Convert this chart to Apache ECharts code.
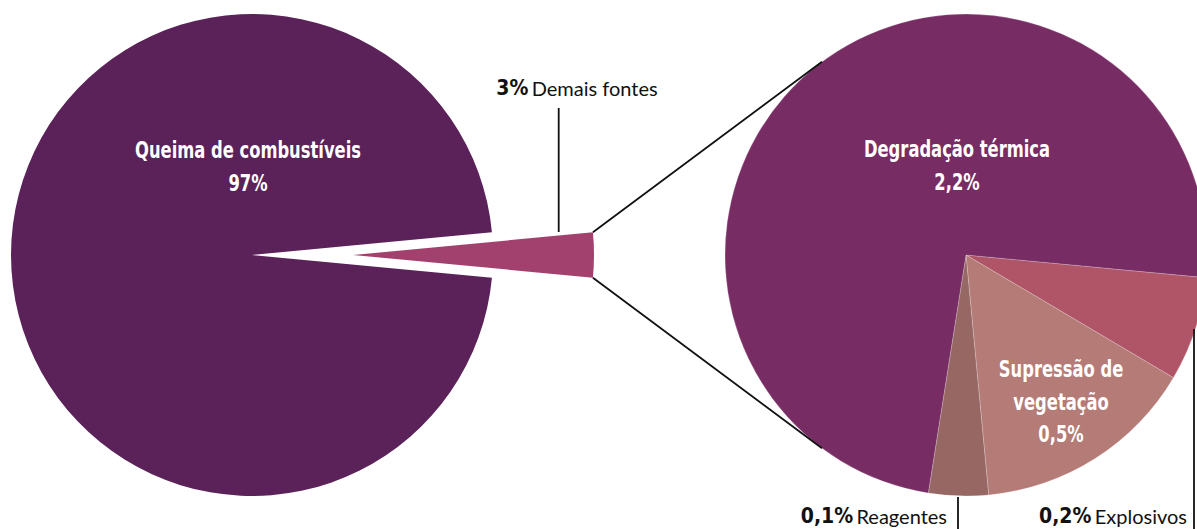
<!DOCTYPE html>
<html>
<head>
<meta charset="utf-8">
<script src="https://cdn.jsdelivr.net/npm/echarts@6/dist/echarts.min.js"></script>
<style>
html,body{margin:0;padding:0;background:#fff;}
#chart{width:1197px;height:529px;}
</style>
</head>
<body>
<div id="chart"></div>
<script>
// ---- data ----
const leftCategories = ['Demais fontes', 'Queima de combustíveis'];
const leftValues = [3, 97];
const leftLabels = ['3%', '97%'];
const leftColors = ['#A3416E', '#5A2259'];

const rightCategories = ['Explosivos', 'Supressão de vegetação', 'Reagentes', 'Degradação térmica'];
const rightValues = [0.21, 0.45, 0.12, 2.22];
const rightLabels = ['0,2%', '0,5%', '0,1%', '2,2%'];
const rightColors = ['#B05467', '#B47B77', '#976763', '#782C64'];

// ---- layout ----
const L = { cx: 252, cy: 255, r: 241 };
const R = { cx: 966, cy: 255, r: 241 };
const explode = 101;
const leftTotal = leftValues.reduce((a, b) => a + b, 0);
const halfAngle = leftValues[0] / leftTotal * 360 / 2;
const rightStart = -5.4;

const condBold = "'Liberation Sans Narrow', 'DejaVu Sans Condensed', 'Noto Sans', sans-serif";
const regular = "'Lato', 'Noto Sans', sans-serif";

const rad = d => d * Math.PI / 180;
const cornerTop = [L.cx + explode + L.r * Math.cos(rad(halfAngle)), L.cy - L.r * Math.sin(rad(halfAngle))];
const cornerBot = [L.cx + explode + L.r * Math.cos(rad(halfAngle)), L.cy + L.r * Math.sin(rad(halfAngle))];
const connAngle = 126.7;
const endTop = [R.cx + R.r * Math.cos(rad(connAngle)), R.cy - R.r * Math.sin(rad(connAngle))];
const endBot = [R.cx + R.r * Math.cos(rad(connAngle)), R.cy + R.r * Math.sin(rad(connAngle))];

const chart = echarts.init(document.getElementById('chart'), null, { renderer: 'svg' });

const lineStyle = { stroke: '#111', lineWidth: 1.8 };
const insideText = (x, y, text, lh) => ({
  type: 'text', x: x, y: y, z: 100, scaleX: 0.79,
  style: { text: text, fill: '#fff', fontFamily: condBold, fontWeight: 'bold', fontSize: 23,
           align: 'center', verticalAlign: 'middle', lineHeight: lh }
});
const outsideText = (x, y, pct, name, align) => ({
  type: 'text', x: x, y: y, z: 100,
  style: {
    text: '{b|' + pct + '} {r|' + name + '}', align: align, verticalAlign: 'middle',
    rich: {
      b: { fontFamily: condBold, fontWeight: 'bold', fontSize: 21, fill: '#111', color: '#111' },
      r: { fontFamily: regular, fontSize: 20, fill: '#111', color: '#111' }
    }
  }
});

chart.setOption({
  animation: false,
  series: [
    {
      type: 'pie',
      center: [L.cx, L.cy],
      radius: L.r,
      startAngle: halfAngle,
      clockwise: true,
      selectedMode: 'single',
      selectedOffset: explode,
      label: { show: false }, labelLine: { show: false },
      emphasis: { disabled: true },
      silent: true,
      data: leftCategories.map((c, i) => ({
        name: c, value: leftValues[i], selected: i === 0,
        itemStyle: { color: leftColors[i] },
        select: { itemStyle: { color: leftColors[i] } }
      }))
    },
    {
      type: 'pie',
      center: [R.cx, R.cy],
      radius: R.r,
      startAngle: rightStart,
      clockwise: true,
      label: { show: false }, labelLine: { show: false },
      emphasis: { disabled: true },
      silent: true,
      itemStyle: { borderColor: 'rgba(255,255,255,0.35)', borderWidth: 0.6 },
      data: rightCategories.map((c, i) => ({
        name: c, value: rightValues[i], itemStyle: { color: rightColors[i] }
      }))
    }
  ],
  graphic: [
    { type: 'line', shape: { x1: cornerTop[0], y1: cornerTop[1], x2: endTop[0], y2: endTop[1] }, style: lineStyle, z: 50 },
    { type: 'line', shape: { x1: cornerBot[0], y1: cornerBot[1], x2: endBot[0], y2: endBot[1] }, style: lineStyle, z: 50 },
    { type: 'line', shape: { x1: 558.7, y1: 108, x2: 558.7, y2: 232 }, style: lineStyle, z: 50 },
    { type: 'line', shape: { x1: 958, y1: 497, x2: 958, y2: 529 }, style: lineStyle, z: 50 },
    { type: 'line', shape: { x1: 1194, y1: 329, x2: 1194, y2: 529 }, style: lineStyle, z: 50 },
    insideText(L.cx - 4, 167, leftCategories[1] + '\n' + leftLabels[1], 33),
    insideText(R.cx - 9, 166, rightCategories[3] + '\n' + rightLabels[3], 33),
    insideText(R.cx + 95, 402, 'Supressão de\nvegetação\n' + rightLabels[1], 32.5),
    outsideText(577, 88, leftLabels[0], leftCategories[0], 'center'),
    outsideText(947, 516, rightLabels[2], rightCategories[2], 'right'),
    outsideText(1187, 516, rightLabels[0], rightCategories[0], 'right')
  ]
});
</script>
</body>
</html>
